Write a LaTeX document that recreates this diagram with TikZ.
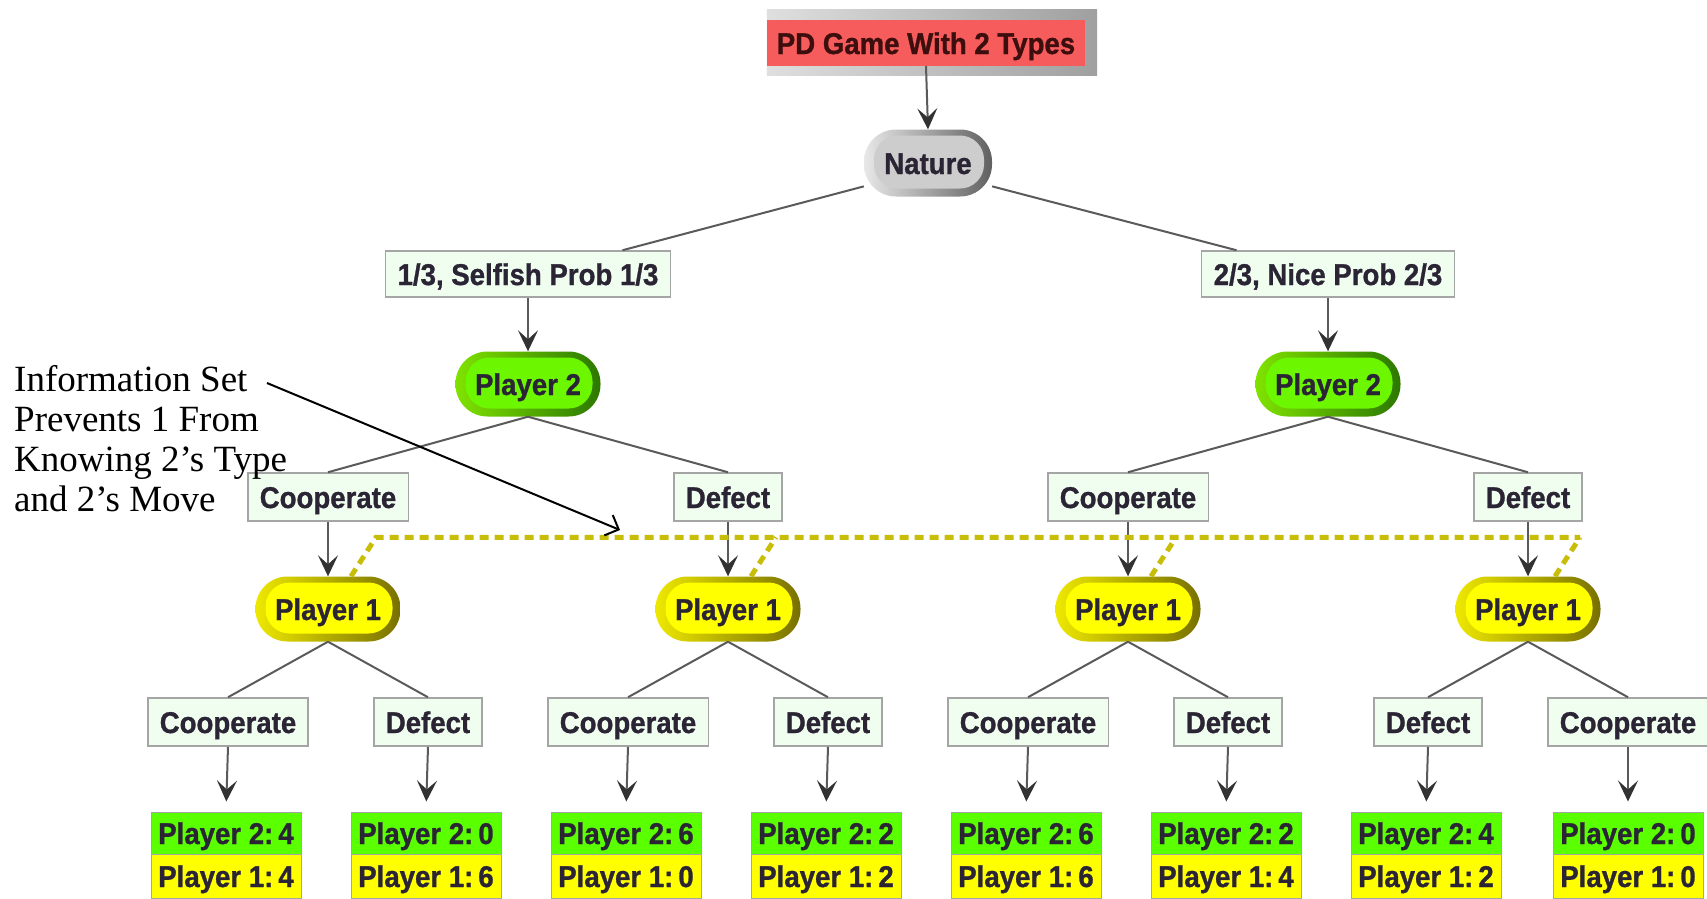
\documentclass[tikz,border=0pt]{standalone}
\usepackage{fontspec}
\setmainfont{Liberation Serif}
\newfontfamily\cmapfont{Liberation Sans}[FakeStretch=0.92, BoldFeatures={FakeBold=1}]
\usetikzlibrary{arrows.meta,calc,backgrounds}
\definecolor{txtdark}{RGB}{42,36,52}
\definecolor{titlered}{RGB}{246,92,92}
\definecolor{titletxt}{RGB}{60,14,14}
\definecolor{grL}{RGB}{128,226,0}
\definecolor{grR}{RGB}{44,120,0}
\definecolor{grI}{RGB}{108,246,0}
\definecolor{yeL}{RGB}{238,232,0}
\definecolor{yeR}{RGB}{120,112,0}
\definecolor{yeI}{RGB}{255,255,0}
\definecolor{naL}{RGB}{232,232,232}
\definecolor{naR}{RGB}{96,96,96}
\definecolor{naI}{RGB}{205,205,205}
\definecolor{mint}{RGB}{240,254,240}
\definecolor{boxgray}{RGB}{165,165,165}
\definecolor{leafG}{RGB}{90,255,0}
\definecolor{leafY}{RGB}{255,255,0}
\definecolor{conngray}{RGB}{90,90,90}
\definecolor{tipgray}{RGB}{50,50,50}
\definecolor{isetc}{RGB}{200,190,10}
\tikzset{
 cmtext/.style={font=\cmapfont\bfseries\fontsize{30}{32}\selectfont, text=txtdark},
 innerpill/.style={path picture={\fill[#1, rounded corners=24pt] ([shift={(10pt,8pt)}]path picture bounding box.south west) rectangle ([shift={(-8pt,-6pt)}]path picture bounding box.north east);}},
 pill/.style={cmtext, rectangle, rounded corners=32pt, minimum height=65pt, minimum width=145pt, inner sep=0pt, text height=22pt, text depth=0pt},
 p2node/.style={pill, left color=grL, right color=grR, innerpill=grI},
 p1node/.style={pill, left color=yeL, right color=yeR, innerpill=yeI},
 natnode/.style={pill, minimum width=128pt, minimum height=67pt, left color=naL, right color=naR, innerpill=naI},
 titlebox/.style={cmtext, text=titletxt, rectangle, fill=titlered, minimum width=318pt, minimum height=46pt, inner sep=0pt, text height=22pt, text depth=0pt},
 actbox/.style={cmtext, rectangle, fill=mint, draw=boxgray, line width=1.5pt, minimum height=48pt, inner xsep=12pt, inner ysep=0pt, text height=22pt, text depth=0pt},
 leafg/.style={cmtext, rectangle, fill=leafG, draw=boxgray, line width=1pt, minimum width=150pt, minimum height=42pt, inner sep=0pt, text height=22pt, text depth=0pt},
 leafy/.style={leafg, fill=leafY, minimum height=44pt},
 conn/.style={draw=conngray, line width=2pt},
 arr/.style={conn, -{Stealth[length=21pt,width=20pt,inset=9pt,color=tipgray]}},
 infoset/.style={draw=isetc, line width=5pt, dash pattern=on 9pt off 6pt},
 notetext/.style={font=\fontsize{37}{40}\selectfont, align=left, inner sep=0pt, anchor=north west},
}
\newcommand{\pay}[2]{Player #1:\hspace{5pt}#2}
\begin{document}
\begin{tikzpicture}[x=1pt,y=-1pt]
\begin{scope}[on background layer]
\fill[white] (0,0) rectangle (1707,898);
\end{scope}
\useasboundingbox (0,0) rectangle (1707,898);

% title and nature
\node[titlebox] (title) at (926,43) {PD Game With 2 Types};
\begin{scope}[on background layer]
\shade[left color=gray!25, right color=gray!75] ([shift={(0,9)}]title.south west) rectangle ([shift={(12,-10)}]title.north east);
\end{scope}
\node[natnode] (nature) at (928,163) {Nature};

% chance outcomes
\node[actbox, minimum height=46pt] (selfish) at (528,274) {1/3, Selfish Prob 1/3};
\node[actbox, minimum height=46pt] (nice) at (1328,274) {2/3, Nice Prob 2/3};

% player 2
\node[p2node] (p2a) at (528,384) {Player 2};
\node[p2node] (p2b) at (1328,384) {Player 2};

% player 2 moves
\node[actbox] (m1) at (328,497) {Cooperate};
\node[actbox] (m2) at (728,497) {Defect};
\node[actbox] (m3) at (1128,497) {Cooperate};
\node[actbox] (m4) at (1528,497) {Defect};

% player 1
\node[p1node] (p1a) at (328,609) {Player 1};
\node[p1node] (p1b) at (728,609) {Player 1};
\node[p1node] (p1c) at (1128,609) {Player 1};
\node[p1node] (p1d) at (1528,609) {Player 1};

% player 1 moves
\node[actbox] (a1) at (228,722) {Cooperate};
\node[actbox] (a2) at (428,722) {Defect};
\node[actbox] (a3) at (628,722) {Cooperate};
\node[actbox] (a4) at (828,722) {Defect};
\node[actbox] (a5) at (1028,722) {Cooperate};
\node[actbox] (a6) at (1228,722) {Defect};
\node[actbox] (a7) at (1428,722) {Defect};
\node[actbox] (a8) at (1628,722) {Cooperate};

% payoffs
\node[leafg] (g1) at (226,833) {\pay{2}{4}};
\node[leafy] (y1) at (226,876) {\pay{1}{4}};
\node[leafg] (g2) at (426,833) {\pay{2}{0}};
\node[leafy] (y2) at (426,876) {\pay{1}{6}};
\node[leafg] (g3) at (626,833) {\pay{2}{6}};
\node[leafy] (y3) at (626,876) {\pay{1}{0}};
\node[leafg] (g4) at (826,833) {\pay{2}{2}};
\node[leafy] (y4) at (826,876) {\pay{1}{2}};
\node[leafg] (g5) at (1026,833) {\pay{2}{6}};
\node[leafy] (y5) at (1026,876) {\pay{1}{6}};
\node[leafg] (g6) at (1226,833) {\pay{2}{2}};
\node[leafy] (y6) at (1226,876) {\pay{1}{4}};
\node[leafg] (g7) at (1426,833) {\pay{2}{4}};
\node[leafy] (y7) at (1426,876) {\pay{1}{2}};
\node[leafg] (g8) at (1628,833) {\pay{2}{0}};
\node[leafy] (y8) at (1628,876) {\pay{1}{0}};

% connectors
\draw[arr] (title.south) -- (nature.north);
\draw[conn] (nature.200) -- ($(selfish.north)!0.66!(selfish.north east)$);
\draw[conn] (nature.-20) -- ($(nice.north)!0.72!(nice.north west)$);
\draw[arr] (selfish.south) -- (p2a.north);
\draw[arr] (nice.south) -- (p2b.north);
\draw[conn] (p2a.south) -- (m1.north);
\draw[conn] (p2a.south) -- (m2.north);
\draw[conn] (p2b.south) -- (m3.north);
\draw[conn] (p2b.south) -- (m4.north);
\draw[arr] (m1.south) -- (p1a.north);
\draw[arr] (m2.south) -- (p1b.north);
\draw[arr] (m3.south) -- (p1c.north);
\draw[arr] (m4.south) -- (p1d.north);
\draw[conn] (p1a.south) -- (a1.north);
\draw[conn] (p1a.south) -- (a2.north);
\draw[conn] (p1b.south) -- (a3.north);
\draw[conn] (p1b.south) -- (a4.north);
\draw[conn] (p1c.south) -- (a5.north);
\draw[conn] (p1c.south) -- (a6.north);
\draw[conn] (p1d.south) -- (a7.north);
\draw[conn] (p1d.south) -- (a8.north);
\foreach \i in {1,...,8}{
  \draw[arr, shorten >=10pt] (a\i.south) -- (g\i.north);
}

% information set
\draw[infoset] ($(p1a.north)+(23,0)$) -- ($(p1a.north)+(48,-39)$) -- ($(p1d.north)+(52,-39)$);
\draw[infoset] ($(p1b.north)+(23,0)$) -- ($(p1b.north)+(48,-39)$);
\draw[infoset] ($(p1c.north)+(23,0)$) -- ($(p1c.north)+(48,-39)$);
\draw[infoset] ($(p1d.north)+(27,0)$) -- ($(p1d.north)+(52,-39)$);

% annotation
\node[notetext] (note) at (14,365) {Information Set\\Prevents 1 From\\Knowing 2’s Type\\and 2’s Move};
\coordinate (nstart) at (267,383);
\coordinate (iset) at (620,530);
\draw[line width=2pt, -{Straight Barb[length=11pt,width=22pt]}] (nstart) -- (iset);
\end{tikzpicture}
\end{document}
